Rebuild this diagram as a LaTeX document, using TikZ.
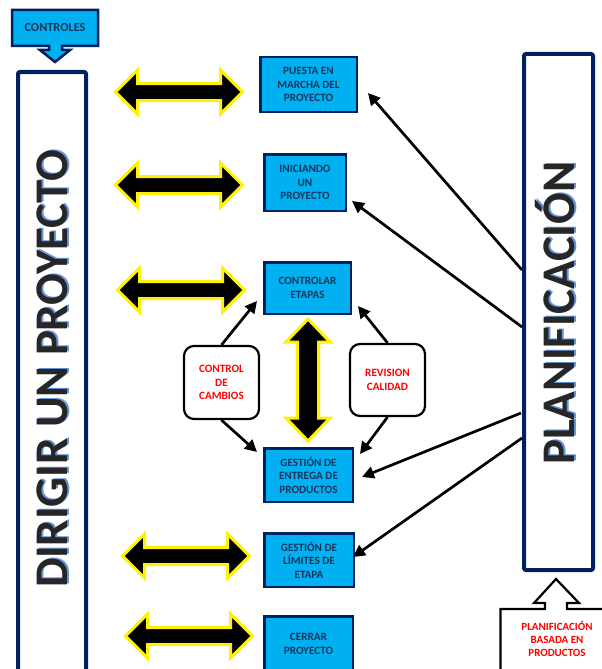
\documentclass[tikz,border=0pt]{standalone}
\usepackage{fontspec}
\setmainfont{Carlito}
\usetikzlibrary{arrows.meta,calc}

\definecolor{navy}{RGB}{0,32,96}
\definecolor{boxcyan}{RGB}{0,176,240}
\definecolor{boxtext}{RGB}{23,54,93}
\definecolor{titlegray}{RGB}{38,38,38}
\definecolor{titleshade}{RGB}{100,148,218}
\definecolor{alertred}{RGB}{255,0,0}

\tikzset{
  stepbox/.style={draw=navy, fill=boxcyan, line width=2.5pt, text=boxtext,
    font=\fontsize{11.2}{13.5}\selectfont\bfseries, align=center, inner sep=0pt},
  notebox/.style={draw=black, fill=white, line width=2.2pt, rounded corners=10pt,
    text=alertred, font=\fontsize{11.2}{13.7}\selectfont\bfseries, align=center, inner sep=0pt},
  sidebar/.style={draw=navy, fill=white, line width=4pt, rounded corners=2pt, inner sep=0pt},
  bigtitle/.style={rotate=90, anchor=base, inner sep=0pt,
    font=\fontsize{46.8}{50}\selectfont\bfseries},
  conn/.style={draw=black, line width=2.7pt, -{Triangle[length=12pt,width=12pt]}},
  bigarrow/.style={draw=yellow, fill=black, line width=3pt, line join=miter},
  callout/.style={line width=2.5pt, line join=miter},
}

% thick black double arrow with yellow rim:
% #1 centre, #2 angle, #3 half length, #4 shaft half width, #5 head length
\newcommand\dblarrow[5]{%
  \path[bigarrow, shift={#1}, rotate=#2]
    (-#3,0) -- ({-#3+#5},-22) -- ({-#3+#5},-#4) -- ({#3-#5},-#4) -- ({#3-#5},-22)
    -- (#3,0) -- ({#3-#5},22) -- ({#3-#5},#4) -- ({-#3+#5},#4) -- ({-#3+#5},22) -- cycle;}

\begin{document}
\begin{tikzpicture}[x=1pt, y=-1pt]
\useasboundingbox (0,0) rectangle (602,669);

% side bars
\node[sidebar, minimum width=68pt, minimum height=610pt] (dir) at (52,377) {};
\node[sidebar, minimum width=69pt, minimum height=516pt] (plan) at (558.5,312) {};

% rotated titles with their blue shading
\node[bigtitle, text=titleshade] (dirsh) at (69,368) {DIRIGIR UN PROYECTO};
\node[bigtitle, text=titlegray] (dirtx) at (67,369) {DIRIGIR UN PROYECTO};
\node[bigtitle, text=titleshade] (plansh) at (576,312.5) {PLANIFICACIÓN};
\node[bigtitle, text=titlegray] (plantx) at (574,313.5) {PLANIFICACIÓN};

% callout on top of the left bar
\draw[callout, draw=navy, fill=boxcyan]
  (12,10) -- (98,10) -- (98,46) -- (62,46) -- (62,50) -- (70,50) -- (55,62)
  -- (40,50) -- (49,50) -- (49,46) -- (12,46) -- cycle;
\node[text=boxtext, font=\fontsize{12.3}{14}\selectfont\bfseries] (ctl) at (55,28) {CONTROLES};

% callout below the right bar
\draw[callout, draw=black, fill=white, line width=2.2pt]
  (500.5,690) -- (500.5,609) -- (545,609) -- (545,603) -- (534,603) -- (556,579)
  -- (579,603) -- (567,603) -- (567,609) -- (620,609) -- (620,690) -- cycle;
\node[text=alertred, align=center, font=\fontsize{11}{13}\selectfont\bfseries]
  (pbp) at (557,639) {PLANIFICACIÓN\\BASADA EN\\PRODUCTOS};

% process steps
\node[stepbox, minimum width=96.5pt, minimum height=54.5pt] (pm) at (308.5,84.5) {PUESTA EN\\MARCHA DEL\\PROYECTO};
\node[stepbox, minimum width=81.5pt, minimum height=56.5pt] (ip) at (305,182.5) {INICIANDO\\UN\\PROYECTO};
\node[stepbox, minimum width=86.5pt, minimum height=51.5pt] (ce) at (307.5,288) {CONTROLAR\\ETAPAS};
\node[stepbox, minimum width=88.5pt, minimum height=53.5pt] (ge) at (308.5,475) {GESTIÓN DE\\ENTREGA DE\\PRODUCTOS};
\node[stepbox, minimum width=89.5pt, minimum height=53.5pt] (gl) at (309,560) {GESTIÓN DE\\LÍMITES DE\\ETAPA};
\node[stepbox, minimum width=88.5pt, minimum height=55.5pt] (cp) at (308.5,644) {CERRAR\\PROYECTO};

% side notes
\node[notebox, minimum width=75pt, minimum height=73pt] (cc) at (221.5,382.5) {CONTROL\\DE\\CAMBIOS};
\node[notebox, minimum width=75pt, minimum height=72pt] (rc) at (387.5,380) {REVISION\\CALIDAD};

% double arrows between the left bar and the steps
\dblarrow{(179,92)}{0}{63.5}{8.5}{22}
\dblarrow{(179,185)}{0}{63.5}{8.5}{22}
\dblarrow{(181,290)}{0}{63.5}{8.5}{22}
\dblarrow{(186,556)}{0}{63.5}{8.5}{22}
\dblarrow{(189,636)}{0}{63.5}{8.5}{22}
\dblarrow{(308,380)}{90}{61}{10.5}{23}

% arrow ends
\coordinate (t1) at (257,301);
\coordinate (t2) at (257,452);
\coordinate (t3) at (358,306);
\coordinate (t4) at (360,454);
\coordinate (t5) at (368,93);
\coordinate (t6) at (352,201);
\coordinate (t7) at (362,477);
\coordinate (t8) at (353,557);

\draw[conn] (cc.north) -- (t1);
\draw[conn] (cc.south) -- (t2);
\draw[conn] (rc.north) -- (t3);
\draw[conn] (rc.south) -- (t4);
\draw[conn] ($(plan.north west)+(0,218)$) -- (t5);
\draw[conn] ($(plan.north west)+(0,275)$) -- (t6);
\draw[conn] ($(plan.north west)+(-1,361)$) -- (t7);
\draw[conn] ($(plan.north west)+(0,386)$) -- (t8);
\end{tikzpicture}
\end{document}
